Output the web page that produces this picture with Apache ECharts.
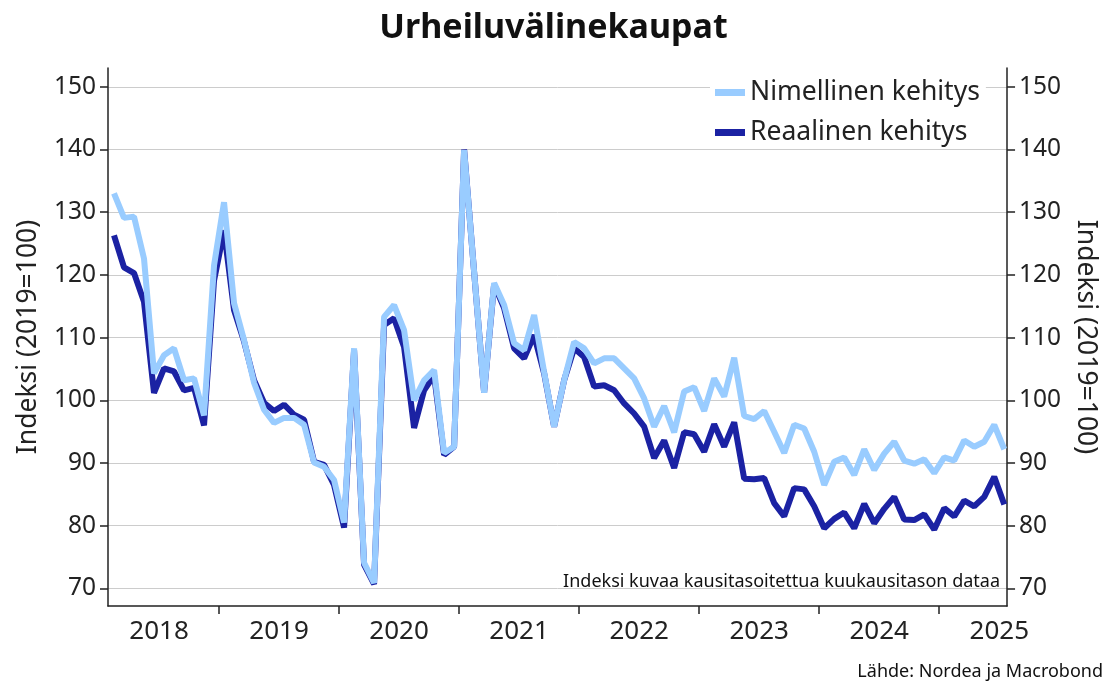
<!DOCTYPE html>
<html>
<head>
<meta charset="utf-8">
<script src="https://cdn.jsdelivr.net/npm/echarts@6/dist/echarts.min.js"></script>
<style>
  html, body { margin: 0; padding: 0; background: #fff; }
  #chart { width: 1107px; height: 686px; }
</style>
</head>
<body>
<div id="chart"></div>
<script>
// Kuukausidata helmikuu 2018 - heinäkuu 2025
var startYear = 2018
var startMonth = 1 // helmikuu (0 = tammikuu)

var nimellinen = [
  133.0, 129.1, 129.3, 122.6, 104.3, 107.2, 108.3, 103.2, 103.5, 97.6, 121.5,
  131.6, 115.5, 109.6, 102.8, 98.5, 96.4, 97.2, 97.2, 96.1, 90.1, 89.4, 87.3,
  80.5, 108.3, 74.1, 70.9, 113.3, 115.2, 111.2, 100.0, 103.2, 104.8, 91.6, 92.6,
  139.9, 120.5, 101.2, 118.7, 115.2, 109.1, 108.0, 113.6, 104.5, 95.8, 103.2, 109.3,
  108.3, 105.9, 106.7, 106.7, 105.1, 103.5, 100.3, 95.8, 99.1, 94.9, 101.4, 102.1,
  98.3, 103.5, 100.6, 106.8, 97.5, 97.0, 98.3, 95.0, 91.6, 96.1, 95.5, 91.8,
  86.5, 90.2, 90.9, 88.1, 92.2, 88.9, 91.5, 93.4, 90.4, 89.9, 90.6, 88.4,
  90.9, 90.4, 93.6, 92.6, 93.4, 96.1, 92.2
]

var reaalinen = [
  126.3, 121.2, 120.3, 115.7, 101.2, 105.1, 104.6, 101.6, 102.0, 96.0, 119.1,
  127.1, 114.4, 109.4, 103.2, 99.6, 98.3, 99.3, 97.7, 96.9, 90.2, 89.7, 86.5,
  79.7, 108.0, 73.8, 70.7, 112.0, 113.1, 108.5, 95.6, 101.6, 104.0, 91.3, 92.6,
  140.0, 120.5, 101.2, 118.5, 114.7, 108.3, 106.7, 110.4, 104.3, 95.8, 103.2, 108.3,
  106.9, 102.2, 102.4, 101.6, 99.5, 97.9, 95.8, 90.8, 93.6, 89.2, 94.9, 94.6,
  91.8, 96.2, 92.6, 96.5, 87.5, 87.4, 87.6, 83.6, 81.5, 86.0, 85.8, 83.1,
  79.6, 81.1, 82.1, 79.6, 83.5, 80.4, 82.7, 84.6, 81.0, 80.9, 81.8, 79.4,
  82.8, 81.5, 84.0, 83.1, 84.6, 87.8, 83.4
]

var yTicks = [70, 80, 90, 100, 110, 120, 130, 140, 150]
var yearTicks = [2019, 2020, 2021, 2022, 2023, 2024, 2025]
var yearLabels = [2018, 2019, 2020, 2021, 2022, 2023, 2024, 2025]

// kuukauden keskikohta desimaalivuotena
function toPairs(values) {
  return values.map(function (v, i) {
    return [startYear + (startMonth + i + 0.5) / 12, v]
  })
}

var fontFamily = '"Noto Sans", "Open Sans", sans-serif'
var axisColor = '#222'

var myChart = echarts.init(document.getElementById('chart'))

function yAxisConf(pos) {
  return {
    type: 'value',
    position: pos,
    min: 67.2,
    max: 153,
    name: 'Indeksi (2019=100)',
    nameLocation: 'middle',
    nameRotate: pos === 'left' ? 90 : -90,
    nameGap: pos === 'left' ? 66 : 64,
    nameTextStyle: { fontSize: 26.5, color: axisColor, fontFamily: fontFamily },
    axisLine: { show: true, lineStyle: { color: axisColor, width: 1.5 } },
    axisTick: { show: true, length: 8, customValues: yTicks, lineStyle: { color: axisColor, width: 1.5 } },
    axisLabel: {
      customValues: yTicks,
      fontSize: 24.5,
      color: axisColor,
      fontFamily: fontFamily,
      margin: 12
    },
    splitLine: { show: pos === 'left', lineStyle: { color: '#cccccc', width: 1 } }
  }
}

var option = {
  animation: false,
  backgroundColor: '#fff',
  title: {
    text: 'Urheiluvälinekaupat',
    left: 'center',
    top: 6,
    textStyle: { fontSize: 34, fontWeight: 'bold', color: '#111', fontFamily: fontFamily }
  },
  legend: {
    data: ['Nimellinen kehitys', 'Reaalinen kehitys'],
    orient: 'vertical',
    left: 710,
    top: 77,
    itemWidth: 30,
    itemHeight: 7,
    itemGap: 13,
    icon: 'rect',
    backgroundColor: '#fff',
    padding: [2, 6, 2, 5],
    textStyle: { fontSize: 26.5, color: axisColor, fontFamily: fontFamily }
  },
  grid: { left: 108, right: 98, top: 68, bottom: 80 },
  xAxis: {
    type: 'value',
    min: 2018.075,
    max: 2025.565,
    axisLine: { show: true, onZero: false, lineStyle: { color: axisColor, width: 1.5 } },
    axisTick: { show: true, length: 8, customValues: yearTicks, lineStyle: { color: axisColor, width: 1.5 } },
    axisLabel: {
      customValues: yearLabels.map(function (y) { return y + 0.5 }),
      formatter: function (v) { return String(Math.floor(v)) },
      fontSize: 26,
      color: axisColor,
      fontFamily: fontFamily,
      margin: 13
    },
    splitLine: { show: false }
  },
  yAxis: [yAxisConf('left'), yAxisConf('right')],
  graphic: [
    {
      type: 'text',
      right: 107,
      top: 573,
      style: {
        text: 'Indeksi kuvaa kausitasoitettua kuukausitason dataa',
        fontSize: 18,
        fill: '#111',
        fontFamily: fontFamily,
        backgroundColor: '#fff'
      }
    },
    {
      type: 'text',
      right: 4,
      top: 663,
      style: {
        text: 'Lähde: Nordea ja Macrobond',
        fontSize: 18,
        fill: '#111',
        fontFamily: fontFamily
      }
    }
  ],
  series: [
    {
      name: 'Reaalinen kehitys',
      type: 'line',
      data: toPairs(reaalinen),
      showSymbol: false,
      color: '#1b22a3',
      lineStyle: { width: 6, color: '#1b22a3', join: 'bevel' }
    },
    {
      name: 'Nimellinen kehitys',
      type: 'line',
      data: toPairs(nimellinen),
      showSymbol: false,
      color: '#99ccff',
      lineStyle: { width: 6, color: '#99ccff', join: 'bevel' }
    }
  ]
}

myChart.setOption(option)
</script>
</body>
</html>
